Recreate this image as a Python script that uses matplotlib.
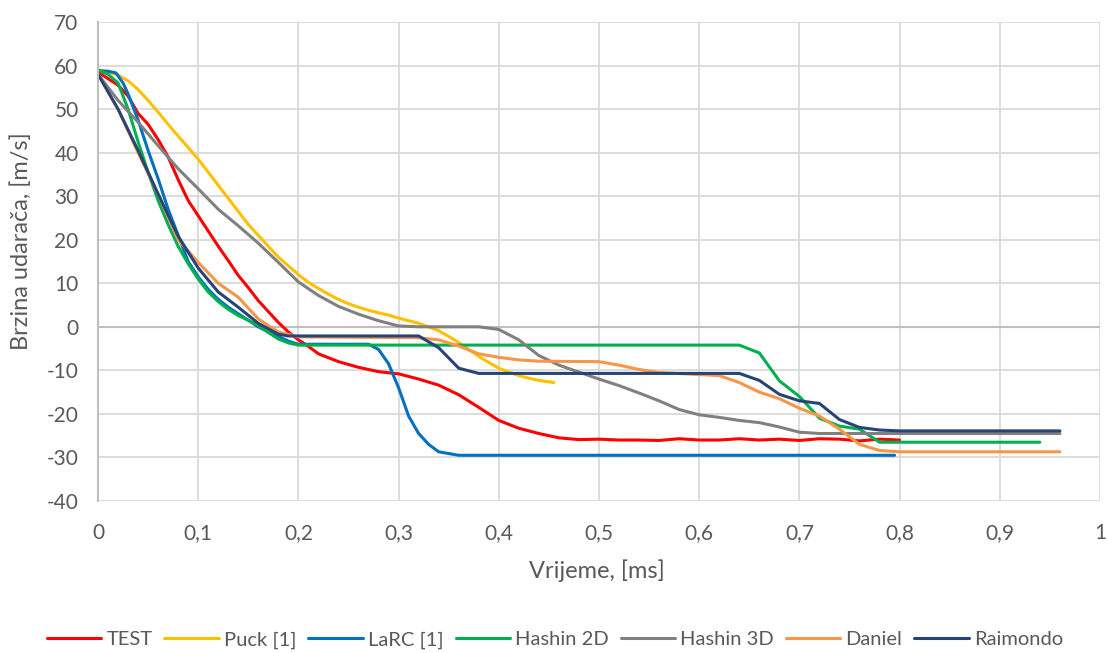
import matplotlib
matplotlib.use("Agg")
import matplotlib.pyplot as plt
from matplotlib.ticker import FixedLocator, FuncFormatter

# ---------------- data ----------------
test_x = [0, 0.01, 0.02, 0.03, 0.04, 0.05, 0.06, 0.07, 0.08, 0.09, 0.10, 0.11, 0.12, 0.13, 0.14,
          0.15, 0.16, 0.17, 0.18, 0.19, 0.20, 0.21, 0.22, 0.24, 0.26, 0.28, 0.30, 0.32, 0.34, 0.36,
          0.38, 0.40, 0.42, 0.44, 0.46, 0.48, 0.50, 0.52, 0.54, 0.56, 0.58, 0.60, 0.62, 0.64, 0.66,
          0.68, 0.70, 0.72, 0.74, 0.76, 0.78, 0.80]
test_y = [58.5, 57, 55.5, 53, 49, 46.5, 43, 39, 33.8, 29, 25.5, 22, 18.5, 15.2, 11.8,
          9, 6, 3.5, 1, -1.2, -3, -4.5, -6.2, -8, -9.3, -10.3, -10.8, -12, -13.4, -15.6,
          -18.5, -21.5, -23.3, -24.5, -25.5, -25.9, -25.8, -26, -26, -26.1, -25.7, -26, -26, -25.7, -26,
          -25.8, -26.1, -25.7, -25.8, -26.2, -25.8, -26]

puck_x = [0, 0.01, 0.02, 0.03, 0.04, 0.05, 0.06, 0.07, 0.08, 0.09, 0.10, 0.11, 0.12, 0.13, 0.14,
          0.15, 0.16, 0.17, 0.18, 0.19, 0.20, 0.21, 0.22, 0.23, 0.24, 0.25, 0.26, 0.27, 0.28, 0.29,
          0.30, 0.31, 0.32, 0.33, 0.34, 0.35, 0.36, 0.37, 0.38, 0.39, 0.40, 0.41, 0.42, 0.43, 0.44, 0.455]
puck_y = [59, 58.5, 57.8, 56.5, 54.5, 52, 49.3, 46.5, 43.8, 41.2, 38.5, 35.5, 32.5, 29.5, 26.5,
          23.5, 21, 18.5, 16, 14, 12, 10.2, 8.8, 7.5, 6.3, 5.3, 4.5, 3.8, 3.2, 2.7,
          2, 1.4, 0.8, 0, -0.9, -2.2, -3.6, -5.2, -6.8, -8.2, -9.5, -10.4, -11.2, -11.8, -12.3, -12.8]

larc_x = [0, 0.01, 0.018, 0.025, 0.03, 0.04, 0.05, 0.06, 0.07, 0.08, 0.09, 0.10, 0.11, 0.12, 0.13,
          0.14, 0.15, 0.16, 0.17, 0.18, 0.19, 0.20, 0.27, 0.28, 0.29, 0.30, 0.31, 0.32, 0.33, 0.34,
          0.36, 0.795]
larc_y = [58.8, 58.7, 58.3, 56, 53.5, 47.5, 40.5, 34, 27, 21, 15, 11.5, 8.6, 6.3, 4.5,
          3, 1.5, 0, -1.2, -2.2, -3.3, -4, -4, -5.2, -8.5, -14, -20.5, -24.5, -27, -28.7,
          -29.5, -29.5]

h2d_x = [0, 0.01, 0.02, 0.03, 0.04, 0.05, 0.06, 0.07, 0.08, 0.09, 0.10, 0.11, 0.12, 0.13, 0.14,
         0.15, 0.16, 0.17, 0.18, 0.19, 0.20, 0.64, 0.66, 0.68, 0.70, 0.72, 0.74, 0.76, 0.78, 0.94]
h2d_y = [59, 58, 56, 50, 42.5, 35.5, 29, 23.5, 18.5, 14.5, 11, 8, 5.8, 4, 2.6,
         1.5, 0.3, -1.3, -2.8, -3.7, -4.2, -4.2, -6, -12.4, -16, -21, -22.8, -23.5, -26.5, -26.5]

h3d_x = [0, 0.02, 0.04, 0.06, 0.08, 0.10, 0.12, 0.14, 0.16, 0.18, 0.20, 0.22, 0.24, 0.26, 0.28,
         0.30, 0.32, 0.38, 0.40, 0.42, 0.44, 0.46, 0.48, 0.50, 0.52, 0.54, 0.56, 0.58, 0.60, 0.62,
         0.64, 0.66, 0.68, 0.70, 0.72, 0.96]
h3d_y = [58, 52, 47, 41.6, 36.3, 31.7, 27, 23.2, 19.2, 14.8, 10.3, 7.2, 4.7, 2.9, 1.4,
         0.2, 0, 0, -0.6, -3, -6.6, -8.8, -10.4, -12, -13.5, -15.2, -17, -19, -20.2, -20.8,
         -21.5, -22, -23, -24.2, -24.5, -24.5]

daniel_x = [0, 0.02, 0.04, 0.06, 0.08, 0.10, 0.12, 0.14, 0.16, 0.18, 0.20, 0.32, 0.34, 0.36, 0.38,
            0.40, 0.42, 0.44, 0.50, 0.52, 0.54, 0.56, 0.62, 0.64, 0.66, 0.68, 0.70, 0.72, 0.74, 0.76,
            0.78, 0.80, 0.96]
daniel_y = [58, 50, 40, 30.5, 20, 14.8, 10, 6.8, 1.8, -1.2, -2.3, -2.5, -3, -4.4, -6.2,
            -7, -7.6, -7.9, -8, -8.8, -9.8, -10.5, -11.2, -12.8, -15, -16.5, -18.7, -20.5, -23.5, -27,
            -28.4, -28.7, -28.7]

raim_x = [0, 0.02, 0.04, 0.06, 0.08, 0.10, 0.12, 0.14, 0.16, 0.18, 0.19, 0.32, 0.34, 0.36, 0.38,
          0.64, 0.66, 0.68, 0.70, 0.72, 0.74, 0.76, 0.78, 0.80, 0.96]
raim_y = [58, 50, 40.5, 30.5, 20.8, 13.5, 8, 4.5, 0.8, -1.7, -2.1, -2.1, -4.8, -9.5, -10.7,
          -10.7, -12.3, -15.5, -17, -17.6, -21.3, -23.1, -23.7, -23.9, -23.9]

series_names = ["TEST", "Puck [1]", "LaRC [1]", "Hashin 2D", "Hashin 3D", "Daniel", "Raimondo"]
series_x = [test_x, puck_x, larc_x, h2d_x, h3d_x, daniel_x, raim_x]
series_y = [test_y, puck_y, larc_y, h2d_y, h3d_y, daniel_y, raim_y]
series_colors = ["#FF0000", "#FFC000", "#0070C0", "#00B050", "#808080", "#F79646", "#264478"]

x_ticks = [0, 0.1, 0.2, 0.3, 0.4, 0.5, 0.6, 0.7, 0.8, 0.9, 1.0]
y_ticks = [-40, -30, -20, -10, 0, 10, 20, 30, 40, 50, 60, 70]
x_label = "Vrijeme, [ms]"
y_label = "Brzina udarača, [m/s]"

# ---------------- figure ----------------
W, H = 1107, 653
plt.rcParams['font.family'] = ['Lato', 'DejaVu Sans']
fig = plt.figure(figsize=(W / 100, H / 100), dpi=100)
ax = fig.add_axes([98 / W, 1 - 501 / H, (1100 - 98) / W, (501 - 22) / H])

for xs, ys, name, col in zip(series_x, series_y, series_names, series_colors):
    ax.plot(xs, ys, color=col, lw=2.2, label=name, solid_joinstyle='round', solid_capstyle='round')

ax.set_xlim(0, 1)
ax.set_ylim(-40, 70)
ax.xaxis.set_major_locator(FixedLocator(x_ticks))
ax.yaxis.set_major_locator(FixedLocator(y_ticks))


def fmt(v, pos):
    return ("%g" % round(v, 2)).replace(".", ",")


ax.xaxis.set_major_formatter(FuncFormatter(fmt))
ax.yaxis.set_major_formatter(FuncFormatter(fmt))

ax.grid(True, color="#D9D9D9", lw=1.3)
ax.set_axisbelow(True)
ax.axhline(0, color="#BFBFBF", lw=1.5, zorder=1.5)
for s in ["top", "right", "bottom"]:
    ax.spines[s].set_visible(False)
ax.spines["left"].set_color("#BFBFBF")
ax.spines["left"].set_linewidth(1.5)
ax.tick_params(length=0, labelsize=15, labelcolor="#595959")
ax.tick_params(axis="y", pad=14)
ax.tick_params(axis="x", pad=16)

fig.text(597 / W, 1 - 571 / H, x_label, fontsize=17, color="#595959", ha="center", va="center")
fig.text(21 / W, 1 - 241 / H, y_label, fontsize=17, color="#595959", ha="center", va="center",
         rotation=90)

leg = fig.legend(loc="center", bbox_to_anchor=(555 / W, 1 - 640 / H), ncol=7, frameon=False,
                 fontsize=14.5, handlelength=2.7, handletextpad=0.25, columnspacing=0.6)
for t in leg.get_texts():
    t.set_color("#595959")

fig.savefig("out.png", dpi=100)
